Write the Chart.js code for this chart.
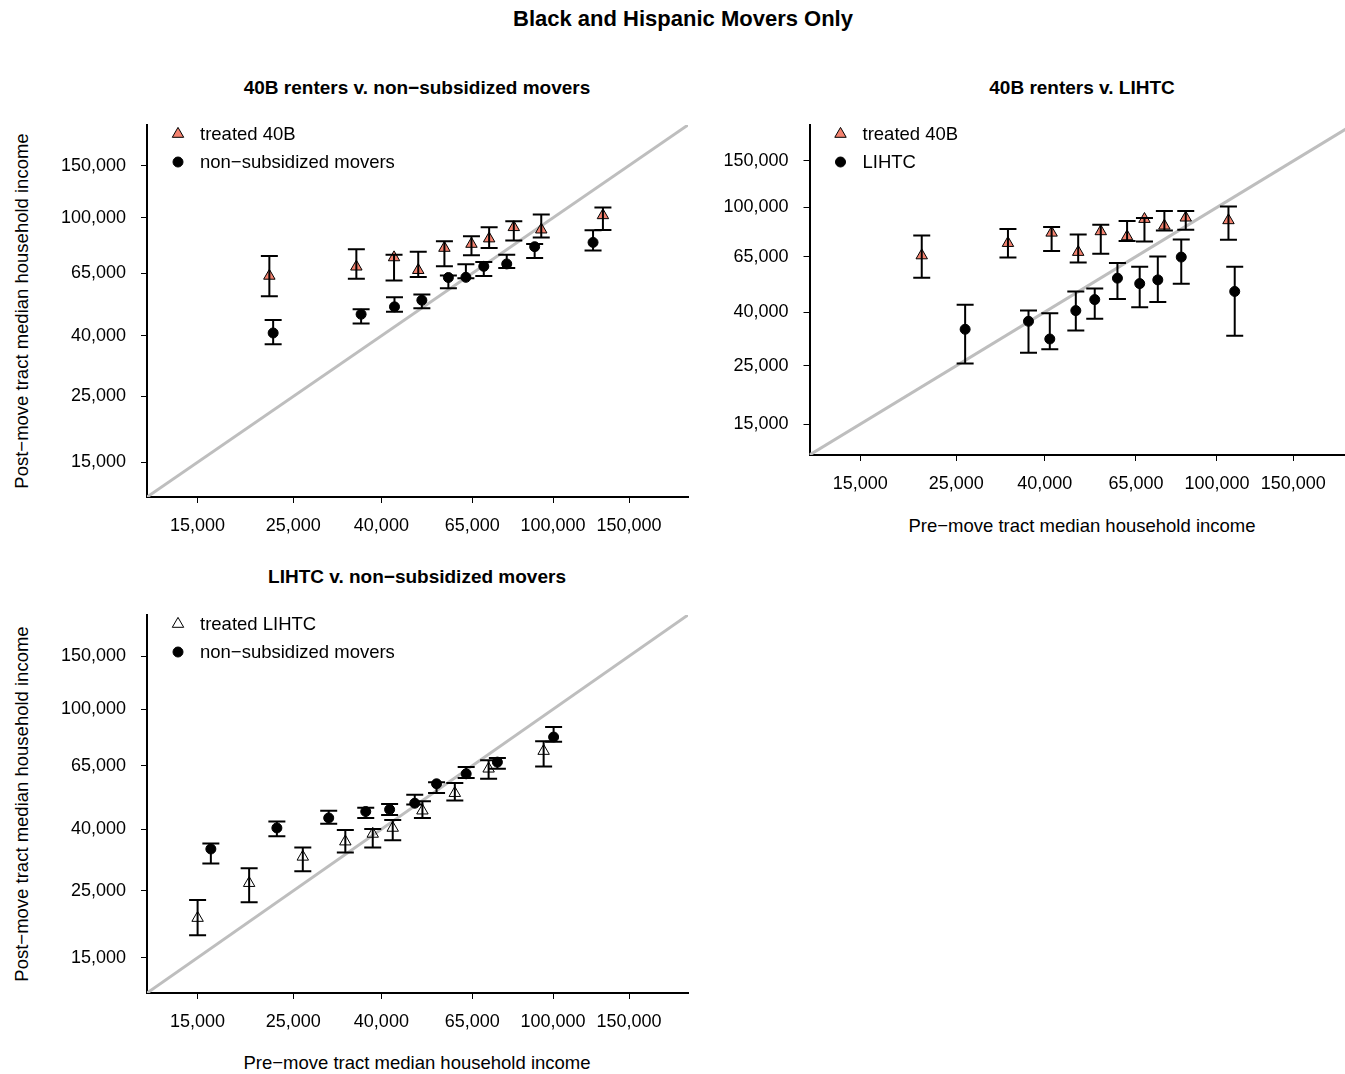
<!DOCTYPE html>
<html>
<head>
<meta charset="utf-8">
<script src="https://cdn.jsdelivr.net/npm/chart.js@4"></script>
<style>
  body { margin: 0; background: #fff; }
  #page { position: relative; width: 1345px; height: 1074px; overflow: hidden; font-family: "Liberation Sans", Arial, sans-serif; color: #000; }
  canvas { position: absolute; }
  .lbl { position: absolute; white-space: nowrap; line-height: 1; transform: translate(-50%, -50%); }
  .bold { font-weight: bold; }
  .rot { transform: translate(-50%, -50%) rotate(-90deg); }
</style>
</head>
<body>
<div id="page">
  <div class="lbl bold" style="left:683px; top:19px; font-size:22px;">Black and Hispanic Movers Only</div>
  <div class="lbl bold" style="left:417px; top:87px; font-size:19px;">40B renters v. non−subsidized movers</div>
  <div class="lbl bold" style="left:1082px; top:87px; font-size:19px;">40B renters v. LIHTC</div>
  <div class="lbl bold" style="left:417px; top:576px; font-size:19px;">LIHTC v. non−subsidized movers</div>
  <div class="lbl rot" style="left:22px; top:311px; font-size:18.5px;">Post−move tract median household income</div>
  <div class="lbl rot" style="left:22px; top:804px; font-size:18.5px;">Post−move tract median household income</div>
  <div class="lbl" style="left:1082px; top:526px; font-size:18.5px;">Pre−move tract median household income</div>
  <div class="lbl" style="left:417px; top:1063px; font-size:18.5px;">Pre−move tract median household income</div>

  <canvas id="c1" width="700" height="545" style="left:0; top:0;"></canvas>
  <canvas id="c2" width="660" height="545" style="left:700px; top:0;"></canvas>
  <canvas id="c3" width="700" height="500" style="left:0; top:545px;"></canvas>
</div>

<script>
// axis range (same on both axes, log scale) and tick labels
const axisMin = 11450;
const axisMax = 205500;
const tickValues = [15000, 25000, 40000, 65000, 100000, 150000];

// panel 1: 40B renters v. non-subsidized movers
const p1TreatedX  = [22000, 35000, 42800, 48700, 56000, 64700, 71100, 81100, 93900, 130500];
const p1TreatedY  = [63700, 68400, 73500, 66600, 79100, 81600, 85100, 92900, 91200, 101900];
const p1TreatedLo = [54400, 62300, 61500, 63200, 68600, 74700, 79100, 83800, 85900, 90900];
const p1TreatedHi = [74300, 78400, 75100, 76800, 83300, 86600, 92900, 97300, 102500, 108400];

const p1CompX  = [22450, 35900, 42900, 49650, 57200, 62800, 69100, 78100, 90650, 123800];
const p1CompY  = [40900, 47300, 50100, 52750, 62900, 63000, 68600, 69900, 79900, 82600];
const p1CompLo = [37500, 44000, 48200, 49600, 57900, 62500, 63600, 67700, 73200, 77600];
const p1CompHi = [45200, 49200, 54000, 55100, 63900, 69700, 71000, 75100, 81600, 90700];

// panel 2: 40B renters v. LIHTC
const p2TreatedX  = [20800, 32900, 41500, 47800, 53900, 62000, 68000, 75600, 84700, 106300];
const p2TreatedY  = [65600, 73100, 80000, 67600, 81000, 77500, 90200, 85100, 91300, 89200];
const p2TreatedLo = [54000, 64500, 68200, 61700, 66600, 74400, 74200, 81700, 82200, 75300];
const p2TreatedHi = [78200, 82700, 84100, 78900, 85900, 88700, 91000, 96800, 96800, 100800];

const p2CompX  = [26200, 36700, 41100, 47200, 52200, 58900, 66300, 73000, 82700, 109900];
const p2CompY  = [34400, 36900, 31600, 40500, 44600, 53800, 51300, 53000, 64700, 47900];
const p2CompLo = [25500, 28000, 28900, 34000, 37700, 44800, 41700, 43700, 51200, 32500];
const p2CompHi = [42600, 40500, 39600, 47900, 49100, 61400, 59400, 65100, 75500, 59400];

// panel 3: LIHTC v. non-subsidized movers
const p3TreatedX  = [15000, 19750, 26300, 33000, 38200, 42500, 49800, 59200, 70900, 95100];
const p3TreatedY  = [20300, 26500, 32400, 36400, 38600, 40400, 46100, 52700, 63500, 72700];
const p3TreatedLo = [17800, 22900, 29000, 33500, 34800, 36800, 43600, 49800, 58800, 64600];
const p3TreatedHi = [23300, 29700, 34800, 39800, 40100, 42900, 49500, 56900, 67700, 78400];

const p3CompX  = [16100, 22900, 30200, 36800, 41800, 47800, 53700, 62900, 74300, 100300];
const p3CompY  = [34400, 40400, 43600, 45800, 46500, 48800, 56600, 61100, 66800, 80900];
const p3CompLo = [30800, 37900, 41700, 43600, 44600, 48300, 52800, 59200, 63500, 78100];
const p3CompHi = [35900, 42400, 46100, 47100, 48500, 52100, 57300, 64300, 68900, 87300];

const FONT = '"Liberation Sans", Arial, sans-serif';
Chart.defaults.font.family = FONT;
Chart.defaults.color = "#000";

function points(xs, ys, lo, hi) {
  return xs.map((x, i) => ({ x: x, y: ys[i], lo: lo[i], hi: hi[i] }));
}

// vertical CI whiskers with caps, drawn on top of the markers
const errorBars = {
  id: "errorBars",
  afterDatasetsDraw(chart) {
    const ctx = chart.ctx;
    const xs = chart.scales.x;
    const ys = chart.scales.y;
    ctx.save();
    ctx.strokeStyle = "#000";
    ctx.lineWidth = 2;
    chart.data.datasets.forEach((ds) => {
      if (!ds.errorBars) return;
      ds.data.forEach((p) => {
        const x = xs.getPixelForValue(p.x);
        const top = ys.getPixelForValue(p.hi);
        const bot = ys.getPixelForValue(p.lo);
        ctx.beginPath();
        ctx.moveTo(x, top); ctx.lineTo(x, bot);
        ctx.moveTo(x - 8.5, top); ctx.lineTo(x + 8.5, top);
        ctx.moveTo(x - 8.5, bot); ctx.lineTo(x + 8.5, bot);
        ctx.stroke();
      });
    });
    ctx.restore();
  }
};

// legend in the top-left corner of the plot area
const insetLegend = {
  id: "insetLegend",
  afterDraw(chart) {
    const { ctx, chartArea } = chart;
    ctx.save();
    let row = 0;
    chart.data.datasets.forEach((ds) => {
      if (ds.legend === false) return;
      const x = chartArea.left + 31;
      const y = chartArea.top + 9 + row * 28;
      ctx.fillStyle = ds.backgroundColor;
      ctx.strokeStyle = ds.borderColor;
      ctx.lineWidth = ds.borderWidth;
      Chart.helpers.drawPoint(ctx, { pointStyle: ds.pointStyle, radius: ds.pointRadius, borderWidth: ds.borderWidth, rotation: 0 }, x, y);
      ctx.fillStyle = "#000";
      ctx.font = "18.5px " + FONT;
      ctx.textBaseline = "middle";
      ctx.textAlign = "left";
      ctx.fillText(ds.label, chartArea.left + 53, y + 1);
      row++;
    });
    ctx.restore();
  }
};

function logAxis(position, size) {
  return {
    type: "logarithmic",
    position: position,
    min: axisMin,
    max: axisMax,
    afterBuildTicks: (scale) => {
      scale.ticks = tickValues.map((v) => ({ value: v }));
    },
    afterFit: (scale) => {
      if (position === "left") scale.width = size;
      else scale.height = size;
    },
    grid: { drawOnChartArea: false, drawTicks: true, tickLength: 6, color: "#000", lineWidth: 1 },
    border: { display: true, color: "#000", width: 2 },
    ticks: {
      color: "#000",
      font: { size: 18 },
      padding: position === "left" ? 15 : 12,
      autoSkip: false,
      maxRotation: 0,
      callback: (v) => Number(v).toLocaleString("en-US")
    }
  };
}

function makePanel(id, opts) {
  const treated = {
    label: opts.treatedLabel,
    data: points(opts.tx, opts.ty, opts.tlo, opts.thi),
    pointStyle: "triangle",
    pointRadius: 6.6,
    backgroundColor: opts.treatedFill,
    borderColor: "#000",
    borderWidth: 1,
    errorBars: true,
    order: 2
  };
  const comp = {
    label: opts.compLabel,
    data: points(opts.cx, opts.cy, opts.clo, opts.chi),
    pointStyle: "circle",
    pointRadius: 5,
    backgroundColor: "#000",
    borderColor: "#000",
    borderWidth: 1,
    errorBars: true,
    order: 1
  };
  const diagonal = {
    label: "45 degree",
    data: [{ x: axisMin, y: axisMin }, { x: axisMax, y: axisMax }],
    showLine: true,
    pointRadius: 0,
    borderColor: "#bebebe",
    borderWidth: 3,
    legend: false,
    order: 10
  };

  return new Chart(document.getElementById(id), {
    type: "scatter",
    data: { datasets: [treated, comp, diagonal] },
    options: {
      responsive: false,
      animation: false,
      devicePixelRatio: 1,
      layout: { padding: opts.padding },
      plugins: { legend: { display: false }, tooltip: { enabled: false } },
      scales: {
        x: logAxis("bottom", opts.xHeight),
        y: logAxis("left", opts.yWidth)
      }
    },
    plugins: [errorBars, insetLegend]
  });
}

makePanel("c1", {
  treatedLabel: "treated 40B", compLabel: "non−subsidized movers", treatedFill: "#f4826f",
  tx: p1TreatedX, ty: p1TreatedY, tlo: p1TreatedLo, thi: p1TreatedHi,
  cx: p1CompX, cy: p1CompY, clo: p1CompLo, chi: p1CompHi,
  padding: { left: 0, top: 125, right: 12, bottom: 0 }, yWidth: 147, xHeight: 48
});

makePanel("c2", {
  treatedLabel: "treated 40B", compLabel: "LIHTC", treatedFill: "#f4826f",
  tx: p2TreatedX, ty: p2TreatedY, tlo: p2TreatedLo, thi: p2TreatedHi,
  cx: p2CompX, cy: p2CompY, clo: p2CompLo, chi: p2CompHi,
  padding: { left: 0, top: 125, right: 6, bottom: 0 }, yWidth: 109.5, xHeight: 90
});

makePanel("c3", {
  treatedLabel: "treated LIHTC", compLabel: "non−subsidized movers", treatedFill: "rgba(0,0,0,0)",
  tx: p3TreatedX, ty: p3TreatedY, tlo: p3TreatedLo, thi: p3TreatedHi,
  cx: p3CompX, cy: p3CompY, clo: p3CompLo, chi: p3CompHi,
  padding: { left: 0, top: 70, right: 12, bottom: 0 }, yWidth: 147, xHeight: 52
});
</script>
</body>
</html>
